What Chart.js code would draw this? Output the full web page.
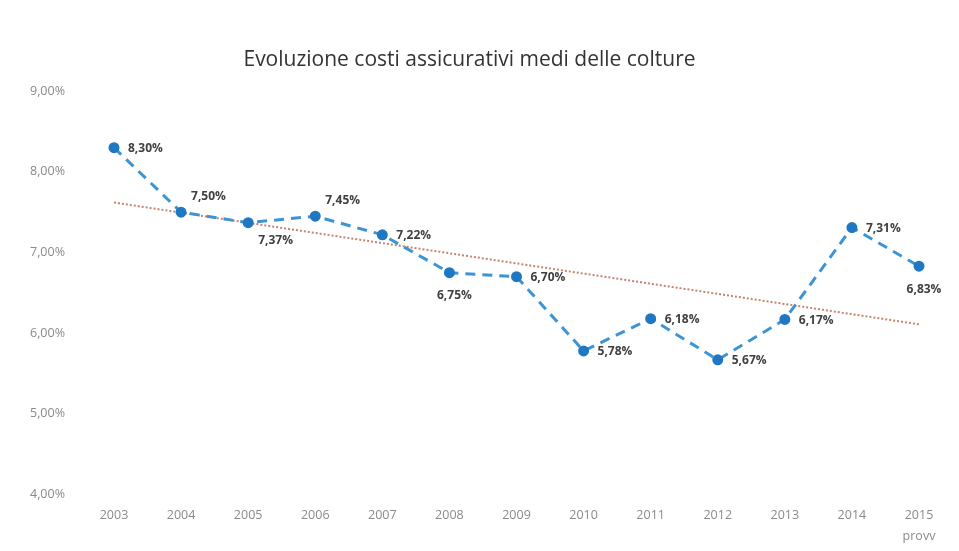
<!DOCTYPE html>
<html lang="it">
<head>
<meta charset="utf-8">
<title>Evoluzione costi assicurativi medi delle colture</title>
<script src="https://cdn.jsdelivr.net/npm/chart.js@4.4.1/dist/chart.umd.min.js"></script>
<style>
  html, body { margin: 0; padding: 0; background: #fff; }
  #wrap { width: 959px; height: 551px; position: relative; }
</style>
</head>
<body>
<div id="wrap"><canvas id="costiChart"></canvas></div>
<script>
// anni della serie (l'ultimo è provvisorio)
const anni = ["2003", "2004", "2005", "2006", "2007", "2008", "2009", "2010", "2011", "2012", "2013", "2014", ["2015", "provv"]];
// costo assicurativo medio, in %
const costi = [8.30, 7.50, 7.37, 7.45, 7.22, 6.75, 6.70, 5.78, 6.18, 5.67, 6.17, 7.31, 6.83];
// linea di tendenza: valori agli estremi (2003 e 2015)
const tendenza = [7.62, 6.11];
// tacche asse y
const tickY = [4, 5, 6, 7, 8, 9];

// dove mettere l'etichetta di ogni punto
const posEtichette = ["right", "aboveRight", "belowRight", "aboveRight", "right", "below", "right", "right", "right", "right", "right", "right", "below"];

const fmt = (v) => v.toFixed(2).replace(".", ",") + "%";

const etichettePlugin = {
  id: "etichette",
  afterDatasetsDraw(chart) {
    const ctx = chart.ctx;
    const meta = chart.getDatasetMeta(0);
    ctx.save();
    ctx.font = "bold 12px 'Open Sans'";
    ctx.fillStyle = "#404040";
    ctx.textBaseline = "middle";
    meta.data.forEach((pt, i) => {
      const txt = fmt(costi[i]);
      let x = pt.x, y = pt.y;
      ctx.textAlign = "left";
      switch (posEtichette[i]) {
        case "right": x += 14; y += 1; break;
        case "aboveRight": x += 10; y -= 16; break;
        case "belowRight": x += 10; y += 18; break;
        case "below": ctx.textAlign = "center"; x += 5; y += 23; break;
      }
      ctx.fillText(txt, x, y);
    });
    ctx.restore();
  }
};

new Chart(document.getElementById("costiChart"), {
  type: "line",
  data: {
    labels: anni,
    datasets: [
      {
        label: "Costo medio",
        data: costi,
        borderColor: "#3d94d4",
        borderWidth: 3,
        borderDash: [10, 7],
        pointBackgroundColor: "#1f78c1",
        pointBorderColor: "#1f78c1",
        pointRadius: 4,
        tension: 0,
        order: 1
      },
      {
        label: "Tendenza",
        data: [{ x: "2003", y: tendenza[0] }, { x: anni[12], y: tendenza[1] }],
        borderColor: "#c7846c",
        borderWidth: 2,
        borderDash: [2, 2],
        pointRadius: 0,
        spanGaps: true,
        order: 2
      }
    ]
  },
  options: {
    responsive: true,
    maintainAspectRatio: false,
    animation: false,
    layout: { padding: { left: 20, right: 40, top: 47, bottom: 0 } },
    plugins: {
      legend: { display: false },
      tooltip: { enabled: false },
      title: {
        display: true,
        text: "Evoluzione costi assicurativi medi delle colture",
        color: "#333",
        font: { family: "'Open Sans'", size: 21, weight: "normal" },
        padding: { top: 0, bottom: 19 }
      }
    },
    scales: {
      x: {
        offset: false,
        grid: { display: false, drawTicks: false },
        border: { display: false },
        afterFit: (s) => { s.height = 52; },
        ticks: {
          color: "#8a8a8a",
          font: { family: "'Open Sans'", size: 12.5, lineHeight: 1.68 },
          padding: 10,
          maxRotation: 0,
          autoSkip: false
        }
      },
      y: {
        min: tickY[0],
        max: tickY[tickY.length - 1],
        grid: { display: false, drawTicks: false },
        border: { display: false },
        afterFit: (s) => { s.width = 94; },
        afterBuildTicks: (s) => { s.ticks = tickY.map((v) => ({ value: v })); },
        ticks: {
          color: "#8a8a8a",
          font: { family: "'Open Sans'", size: 12.5 },
          padding: 49,
          callback: (v) => fmt(v)
        }
      }
    }
  },
  plugins: [etichettePlugin]
});
</script>
</body>
</html>
